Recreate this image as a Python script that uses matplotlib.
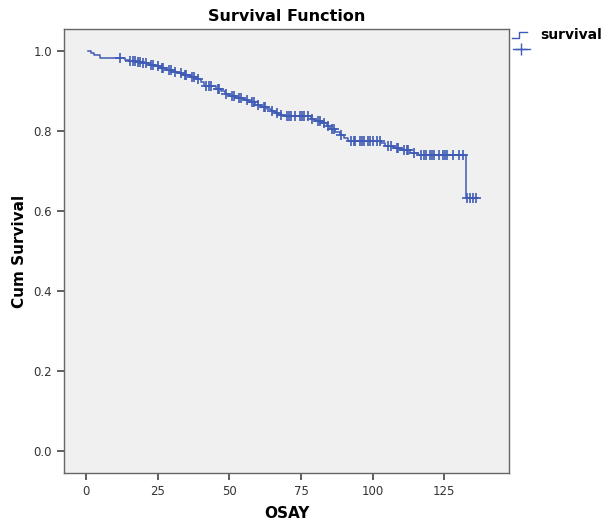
import numpy as np
import matplotlib.pyplot as plt
from matplotlib.lines import Line2D

# Kaplan-Meier estimate: event times and survival after each event
event_times = [1.7, 2.8, 4.9, 13.5, 15, 17.5, 19.5, 22, 24, 26, 28, 30, 32, 34,
               36.5, 38.5, 40, 41, 45.5, 47, 48.5, 50, 52.5, 55, 57, 59, 61, 63,
               64.5, 66, 67.5, 69, 78.5, 80, 82, 84, 85, 87, 88.5, 90, 91.5,
               103, 104.5, 107.5, 109.5, 113, 116, 132.6]
survival = [0.994, 0.990, 0.983, 0.978, 0.975, 0.972, 0.969, 0.966, 0.962, 0.958,
            0.953, 0.948, 0.944, 0.940, 0.935, 0.930, 0.922, 0.912, 0.906, 0.899,
            0.892, 0.887, 0.882, 0.877, 0.872, 0.866, 0.860, 0.855, 0.850, 0.845,
            0.840, 0.837, 0.831, 0.826, 0.820, 0.812, 0.804, 0.797, 0.790, 0.783,
            0.776, 0.770, 0.763, 0.757, 0.752, 0.746, 0.740, 0.632]

# censored observations (OSAY)
censored = [12, 15.5, 16.5, 17, 18, 18.8, 20, 21, 22.5, 23.5, 25, 26.5, 27, 29,
            29.5, 31, 33, 34.5, 35, 37, 37.5, 39, 42, 43, 43.5, 46, 46.5, 49, 51,
            51.5, 53.5, 54, 56, 58, 58.5, 60, 62, 62.5, 65, 66.5, 68, 70, 70.8,
            71.5, 73, 74.5, 75.2, 76, 77.5, 79, 81, 81.5, 83, 84.5, 86, 86.5, 89,
            92.5, 93.5, 94, 95.5, 96.2, 97, 98.5, 99.2, 100, 101.5, 102.5, 105.5,
            106.5, 108.5, 109, 111, 112, 112.5, 114.5, 117, 117.8, 118.5, 120,
            120.8, 121.5, 123, 124.5, 125.2, 126, 128, 130, 131.5, 133, 134, 135, 136]
start_time = 0.7
end_time = 136.8

blue = '#3f5bb5'

t = np.concatenate([[start_time], event_times, [end_time]])
s = np.concatenate([[1.0], survival, [survival[-1]]])

idx = np.searchsorted(event_times, censored, side='right')
s_cens = np.concatenate([[1.0], survival])[idx]

fig = plt.figure(figsize=(6.05, 5.26), dpi=100)
ax = fig.add_axes([0.1058, 0.1008, 0.7355, 0.8441])
ax.set_facecolor('#f0f0f0')

ax.step(t, s, where='post', color=blue, lw=1.1)
ax.plot(censored, s_cens, '+', color=blue, ms=7, mew=1.2)

ax.set_xlim(-7.7, 147.6)
ax.set_ylim(-0.055, 1.055)
ax.set_xticks([0, 25, 50, 75, 100, 125])
ax.set_yticks(np.arange(0, 1.01, 0.2))
ax.set_yticklabels(['%.1f' % v for v in np.arange(0, 1.01, 0.2)])
ax.tick_params(direction='out', length=5, width=1.2, color='#444444',
               labelsize=8.5, labelcolor='#333333')
for sp in ax.spines.values():
    sp.set_color('#666666')
    sp.set_linewidth(1.0)

ax.set_title('Survival Function', fontsize=11.5, fontweight='bold', pad=6)
ax.set_xlabel('OSAY', fontsize=11, fontweight='bold', labelpad=6)
ax.set_ylabel('Cum Survival', fontsize=11, fontweight='bold', labelpad=5)

# legend drawn outside the plot area
fig.add_artist(Line2D([512/605, 519/605, 519/605, 527/605],
                      [1-38/526, 1-38/526, 1-32/526, 1-32/526],
                      color=blue, lw=1.0))
fig.add_artist(Line2D([513/605, 530/605], [1-49/526, 1-49/526], color=blue, lw=1.0))
fig.add_artist(Line2D([521/605], [1-49/526], marker='+', color=blue, ms=8, mew=1.0))
fig.text(540/605, 1-35/526, 'survival', fontsize=10, fontweight='bold', va='center')

fig.savefig('out.png', dpi=100)
